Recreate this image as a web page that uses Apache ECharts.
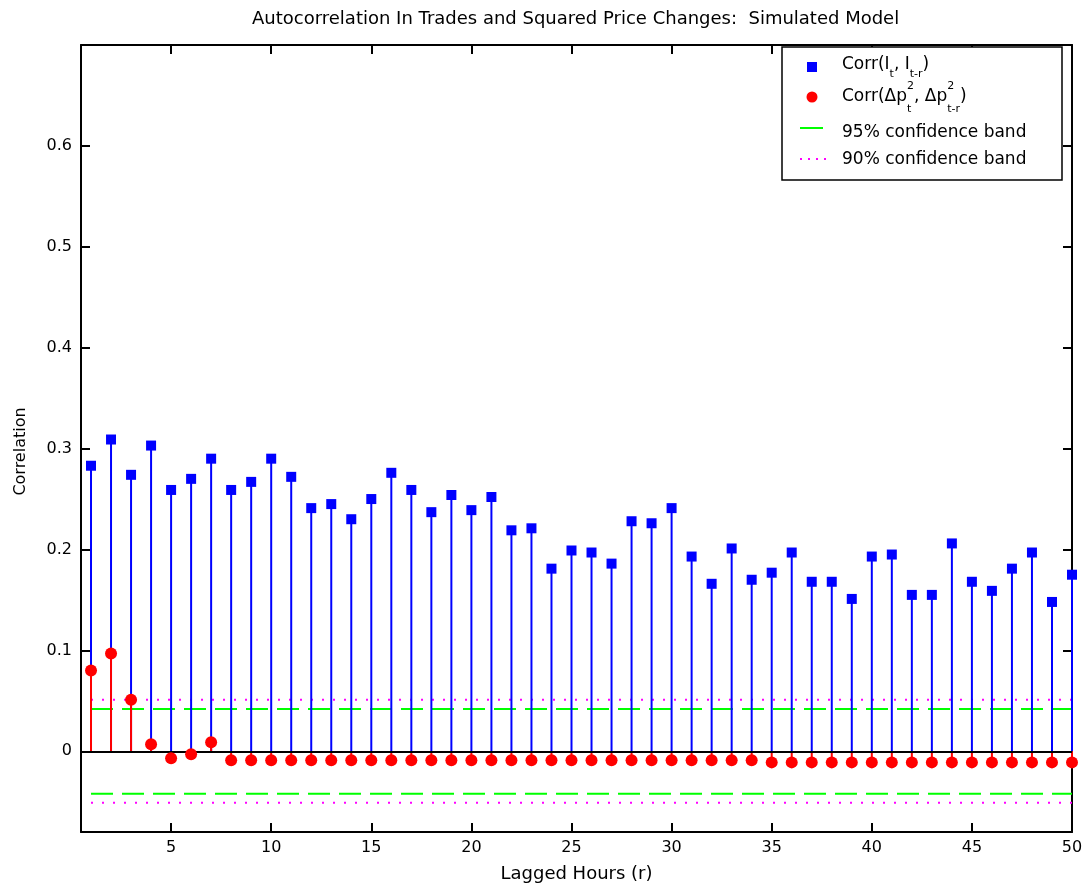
<!DOCTYPE html>
<html>
<head>
<meta charset="utf-8">
<script src="https://cdn.jsdelivr.net/npm/echarts@6/dist/echarts.min.js"></script>
<style>
  html, body { margin: 0; padding: 0; background: #fff; }
  #chart { width: 1086px; height: 892px; }
</style>
</head>
<body>
<div id="chart"></div>
<script>
// lags (hours) and the two autocorrelation series
var lags = [1, 2, 3, 4, 5, 6, 7, 8, 9, 10,
            11, 12, 13, 14, 15, 16, 17, 18, 19, 20,
            21, 22, 23, 24, 25, 26, 27, 28, 29, 30,
            31, 32, 33, 34, 35, 36, 37, 38, 39, 40,
            41, 42, 43, 44, 45, 46, 47, 48, 49, 50];

var tradeCorr = [0.283, 0.309, 0.274, 0.303, 0.259, 0.270, 0.290, 0.259, 0.267, 0.290,
                 0.272, 0.241, 0.245, 0.230, 0.250, 0.276, 0.259, 0.237, 0.254, 0.239,
                 0.252, 0.219, 0.221, 0.181, 0.199, 0.197, 0.186, 0.228, 0.226, 0.241,
                 0.193, 0.166, 0.201, 0.170, 0.177, 0.197, 0.168, 0.168, 0.151, 0.193,
                 0.195, 0.155, 0.155, 0.206, 0.168, 0.159, 0.181, 0.197, 0.148, 0.175];

var priceCorr = [0.080, 0.097, 0.051, 0.007, -0.007, -0.003, 0.009, -0.009, -0.009, -0.009,
                 -0.009, -0.009, -0.009, -0.009, -0.009, -0.009, -0.009, -0.009, -0.009, -0.009,
                 -0.009, -0.009, -0.009, -0.009, -0.009, -0.009, -0.009, -0.009, -0.009, -0.009,
                 -0.009, -0.009, -0.009, -0.009, -0.011, -0.011, -0.011, -0.011, -0.011, -0.011,
                 -0.011, -0.011, -0.011, -0.011, -0.011, -0.011, -0.011, -0.011, -0.011, -0.011];

var band95 = 0.042;
var band90 = 0.051;

var xTicks = [5, 10, 15, 20, 25, 30, 35, 40, 45, 50];
var yTicks = [0, 0.1, 0.2, 0.3, 0.4, 0.5, 0.6];

var FONT = '"DejaVu Sans", Verdana, sans-serif';
var TITLE = 'Autocorrelation In Trades and Squared Price Changes:  Simulated Model';

const pairs = (xs, ys) => xs.map((x, i) => [x, ys[i]]);

// stems drawn from 0 up (or down) to the value
const stemSeries = (name, data, color, z) => ({
    type: 'custom',
    name: name,
    z: z,
    silent: true,
    data: data,
    encode: { x: 0, y: 1 },
    renderItem: (params, api) => {
        const p0 = api.coord([api.value(0), 0]);
        const p1 = api.coord([api.value(0), api.value(1)]);
        return {
            type: 'line',
            shape: { x1: p0[0], y1: p0[1], x2: p1[0], y2: p1[1] },
            style: { stroke: color, lineWidth: 2 }
        };
    }
});

const bandLine = (level, color, dash) => ({
    type: 'line',
    silent: true,
    symbol: 'none',
    z: 1,
    data: [[lags[0], level], [lags[lags.length - 1], level]],
    lineStyle: { color: color, width: 2, type: dash, cap: 'butt' }
});

// hand made legend (needs stacked super/subscripts)
const ctx = document.createElement('canvas').getContext('2d');
const tw = (s, size) => { ctx.font = size + 'px ' + FONT; return ctx.measureText(s).width; };

const MAIN = 17, SMALL = 11;
function legendRow(x, y, parts) {
    const els = [];
    let cx = x;
    parts.forEach(p => {
        if (p.stack) {
            els.push(txt(cx, y - 11, p.sup, SMALL));
            els.push(txt(cx, y + 12, p.sub, SMALL));
            cx += Math.max(tw(p.sup, SMALL), tw(p.sub, SMALL));
        } else if (p.sub) {
            els.push(txt(cx, y + 9, p.sub, SMALL));
            cx += tw(p.sub, SMALL);
        } else {
            els.push(txt(cx, y, p.t, MAIN));
            cx += tw(p.t, MAIN);
        }
    });
    return els;
}
function txt(x, y, s, size) {
    return {
        type: 'text', x: x, y: y, z: 101,
        style: { text: s, font: size + 'px ' + FONT, fill: '#000',
                 align: 'left', verticalAlign: 'middle',
                 textAlign: 'left', textVerticalAlign: 'middle' }
    };
}

const LX = 842;
const legendEls = [
    { type: 'rect', z: 100, shape: { x: 782, y: 47, width: 280, height: 133 },
      style: { fill: '#fff', stroke: '#000', lineWidth: 1.5 } },
    { type: 'rect', z: 101, shape: { x: 807, y: 62, width: 10, height: 10 },
      style: { fill: '#0000ff' } },
    { type: 'circle', z: 101, shape: { cx: 812, cy: 97, r: 5.5 },
      style: { fill: '#ff0000' } },
    { type: 'line', z: 101, shape: { x1: 800, y1: 128, x2: 823, y2: 128 },
      style: { stroke: '#00ff00', lineWidth: 2 } },
    { type: 'line', z: 101, shape: { x1: 800, y1: 159, x2: 826, y2: 159 },
      style: { stroke: '#ff00ff', lineWidth: 2, lineDash: [2, 6] } }
]
.concat(legendRow(LX, 65, [{ t: 'Corr(I' }, { sub: 't' }, { t: ', I' }, { sub: 't-r' }, { t: ')' }]))
.concat(legendRow(LX, 97, [{ t: 'Corr(\u0394p' }, { stack: true, sup: '2', sub: 't' },
                            { t: ', \u0394p' }, { stack: true, sup: '2', sub: 't-r' }, { t: ')' }]))
.concat([txt(LX, 133, '95% confidence band', MAIN), txt(LX, 160, '90% confidence band', MAIN)]);

const axisCommon = {
    axisLine: { show: true, onZero: false, lineStyle: { color: '#000', width: 2 } },
    splitLine: { show: false }
};

const option = {
    animation: false,
    backgroundColor: '#fff',
    textStyle: { fontFamily: FONT },
    title: {
        text: TITLE,
        left: Math.round(576 - tw(TITLE, 18) / 2),
        top: 10,
        padding: 0,
        textStyle: { fontFamily: FONT, fontSize: 18, fontWeight: 'normal', color: '#000' }
    },
    grid: { left: 81, right: 14, top: 45, bottom: 60, containLabel: false, outerBoundsMode: 'none' },
    xAxis: [
        Object.assign({
            type: 'value', min: 0.5, max: 50, position: 'bottom',
            name: 'Lagged Hours (r)', nameLocation: 'middle', nameGap: 33,
            nameTextStyle: { fontFamily: FONT, fontSize: 18, color: '#000' },
            axisTick: { show: true, inside: true, length: 9, customValues: xTicks,
                        lineStyle: { color: '#000', width: 2 } },
            axisLabel: { show: true, customValues: xTicks, margin: 8,
                         fontFamily: FONT, fontSize: 16, color: '#000' }
        }, axisCommon),
        Object.assign({
            type: 'value', min: 0.5, max: 50, position: 'top',
            axisTick: { show: true, inside: true, length: 9, customValues: xTicks,
                        lineStyle: { color: '#000', width: 2 } },
            axisLabel: { show: false }
        }, axisCommon)
    ],
    yAxis: [
        Object.assign({
            type: 'value', min: -0.08, max: 0.7, position: 'left',
            name: 'Correlation', nameLocation: 'middle', nameGap: 52,
            nameTextStyle: { fontFamily: FONT, fontSize: 16, color: '#000', padding: [0, 26, 0, 0] },
            axisTick: { show: true, inside: true, length: 9, customValues: yTicks,
                        lineStyle: { color: '#000', width: 2 } },
            axisLabel: { show: true, customValues: yTicks, margin: 9,
                         fontFamily: FONT, fontSize: 16, color: '#000' }
        }, axisCommon),
        Object.assign({
            type: 'value', min: -0.08, max: 0.7, position: 'right',
            axisTick: { show: true, inside: true, length: 9, customValues: yTicks,
                        lineStyle: { color: '#000', width: 2 } },
            axisLabel: { show: false }
        }, axisCommon)
    ],
    series: [
        bandLine(band95, '#00ff00', [22, 9]),
        bandLine(-band95, '#00ff00', [22, 9]),
        bandLine(band90, '#ff00ff', [2, 9]),
        bandLine(-band90, '#ff00ff', [2, 9]),
        stemSeries('Corr(I_t, I_t-r)', pairs(lags, tradeCorr), '#0000ff', 2),
        {
            type: 'scatter', name: 'Corr(I_t, I_t-r) markers', z: 3, silent: true,
            data: pairs(lags, tradeCorr), symbol: 'rect', symbolSize: 10,
            itemStyle: { color: '#0000ff', opacity: 1 }
        },
        Object.assign(stemSeries('Corr(dp2_t, dp2_t-r)', pairs(lags, priceCorr), '#ff0000', 4), {
            markLine: {
                silent: true, symbol: 'none', label: { show: false },
                lineStyle: { color: '#000', width: 2, type: 'solid' },
                data: [{ yAxis: 0 }]
            }
        }),
        {
            type: 'scatter', name: 'Corr(dp2_t, dp2_t-r) markers', z: 5, silent: true,
            data: pairs(lags, priceCorr), symbol: 'circle', symbolSize: 12,
            itemStyle: { color: '#ff0000', opacity: 1 }
        }
    ],
    graphic: { elements: legendEls }
};

const chart = echarts.init(document.getElementById('chart'));
chart.setOption(option);
</script>
</body>
</html>
